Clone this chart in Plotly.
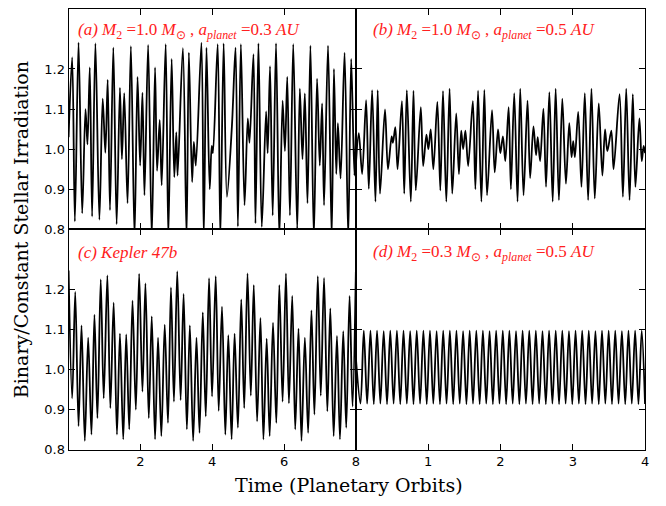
import plotly.graph_objects as go

# ---------------- data (extremes) ----------------
# Panel (a): M2=1.0 Msun, a=0.3 AU  (time in planetary orbits, 0..8)
t_a = [0.0, 0.10, 0.175, 0.277, 0.379, 0.471, 0.526, 0.59, 0.655, 0.747, 0.858, 0.95, 1.024, 1.089,
       1.153, 1.246, 1.338, 1.43, 1.485, 1.55, 1.642, 1.735, 1.836, 1.92, 1.993, 2.057, 2.113, 2.215,
       2.316, 2.408, 2.464, 2.538, 2.593, 2.704, 2.777, 2.87, 2.943, 3.0, 3.036, 3.183, 3.285, 3.35,
       3.44, 3.488, 3.543, 3.7, 3.765, 3.84, 3.93, 3.986, 4.02, 4.152, 4.226, 4.318, 4.41, 4.55, 4.65,
       4.715, 4.798, 4.9, 4.99, 5.038, 5.149, 5.204, 5.287, 5.38, 5.5, 5.545, 5.61, 5.684, 5.777, 5.869,
       5.96, 6.025, 6.09, 6.164, 6.256, 6.367, 6.44, 6.514, 6.58, 6.653, 6.735, 6.83, 6.92, 6.995, 7.06,
       7.114, 7.225, 7.327, 7.39, 7.455, 7.5, 7.575, 7.686, 7.787, 7.87, 7.96, 8.0]
v_a = [1.03, 1.229, 0.82, 1.266, 0.84, 1.10, 1.012, 1.204, 0.832, 1.264, 0.824, 1.126, 0.991, 1.173,
       0.848, 1.253, 0.813, 1.153, 0.975, 1.14, 0.865, 1.257, 0.78, 1.18, 0.959, 1.141, 0.885, 1.26,
       0.78, 1.204, 0.946, 1.073, 0.91, 1.262, 0.78, 1.225, 0.93, 1.042, 0.934, 1.252, 0.78, 1.241,
       0.918, 1.018, 0.959, 1.266, 0.78, 1.253, 0.90, 1.008, 0.99, 1.262, 0.78, 1.264, 0.881, 1.06, 1.253,
       0.807, 1.262, 0.86, 1.077, 1.016, 1.237, 0.815, 1.264, 0.806, 1.094, 0.99, 1.207, 0.835, 1.264, 0.78,
       1.121, 0.995, 1.18, 0.835, 1.262, 0.80, 1.151, 0.975, 1.139, 0.865, 1.258, 0.78, 1.176, 0.959, 1.114,
       0.86, 1.258, 0.78, 1.20, 0.938, 1.065, 0.927, 1.241, 0.78, 1.225, 0.934, 1.04]

# Panel (b): M2=1.0 Msun, a=0.5 AU  (0..4)
t_b = [0.0, 0.041, 0.087, 0.142, 0.179, 0.225, 0.271, 0.302, 0.334, 0.403, 0.444, 0.495, 0.513, 0.546,
       0.577, 0.637, 0.669, 0.705, 0.76, 0.797, 0.829, 0.898, 0.931, 0.976, 1.003, 1.035, 1.072, 1.127,
       1.168, 1.205, 1.251, 1.296, 1.333, 1.388, 1.425, 1.457, 1.484, 1.515, 1.553, 1.618, 1.653, 1.69,
       1.736, 1.777, 1.814, 1.883, 1.92, 1.966, 1.998, 2.034, 2.067, 2.113, 2.144, 2.19, 2.236, 2.273,
       2.319, 2.374, 2.41, 2.456, 2.492, 2.515, 2.548, 2.594, 2.63, 2.676, 2.722, 2.763, 2.808, 2.855,
       2.905, 2.951, 2.983, 3.006, 3.029, 3.075, 3.12, 3.166, 3.212, 3.258, 3.304, 3.359, 3.409, 3.446,
       3.478, 3.533, 3.564, 3.647, 3.693, 3.739, 3.785, 3.83, 3.866, 3.921, 3.954, 3.98, 4.0]
v_b = [0.96, 1.04, 0.938, 1.122, 0.901, 1.147, 0.869, 1.147, 0.889, 1.099, 0.95, 1.032, 1.016, 1.055,
       0.95, 1.12, 0.889, 1.147, 0.869, 1.146, 0.897, 1.105, 0.958, 1.036, 1.0, 1.049, 0.95, 1.118,
       0.897, 1.145, 0.869, 1.151, 0.889, 1.089, 0.938, 1.046, 1.0, 1.046, 0.958, 1.12, 0.90, 1.146,
       0.869, 1.148, 0.885, 1.097, 0.942, 1.049, 0.99, 1.032, 0.97, 1.105, 0.90, 1.14, 0.869, 1.151,
       0.885, 1.121, 0.928, 1.057, 0.985, 1.03, 0.97, 1.101, 0.906, 1.142, 0.869, 1.151, 0.873, 1.126,
       0.914, 1.065, 0.98, 1.02, 0.98, 1.093, 0.906, 1.14, 0.873, 1.151, 0.877, 1.114, 0.934, 1.049,
       0.995, 1.046, 0.95, 1.137, 0.881, 1.151, 0.873, 1.137, 0.906, 1.077, 0.97, 1.008, 0.99]

# Panel (c): Kepler 47b  (0..8)
t_c = [0.0, 0.10, 0.185, 0.277, 0.36, 0.452, 0.545, 0.637, 0.72, 0.803, 0.895, 0.978, 1.08, 1.163,
       1.255, 1.347, 1.43, 1.522, 1.605, 1.689, 1.78, 1.873, 1.965, 2.057, 2.14, 2.233, 2.316, 2.408,
       2.491, 2.583, 2.677, 2.768, 2.851, 2.934, 3.026, 3.12, 3.203, 3.294, 3.377, 3.469, 3.562, 3.646,
       3.737, 3.82, 3.912, 3.995, 4.097, 4.18, 4.272, 4.365, 4.448, 4.54, 4.623, 4.715, 4.808, 4.891,
       4.983, 5.075, 5.157, 5.25, 5.343, 5.426, 5.517, 5.6, 5.693, 5.785, 5.869, 5.96, 6.053, 6.136,
       6.228, 6.311, 6.403, 6.486, 6.58, 6.671, 6.763, 6.846, 6.94, 7.023, 7.114, 7.206, 7.289, 7.382,
       7.474, 7.557, 7.649, 7.732, 7.825, 7.908, 8.0]
v_c = [1.247, 0.928, 1.194, 0.859, 1.11, 0.822, 1.08, 0.838, 1.137, 0.879, 1.225, 0.928, 1.235, 0.904,
       1.167, 0.838, 1.09, 0.826, 1.088, 0.851, 1.172, 0.90, 1.239, 0.945, 1.215, 0.879, 1.133, 0.826,
       1.08, 0.834, 1.112, 0.867, 1.205, 0.92, 1.245, 0.924, 1.189, 0.851, 1.11, 0.822, 1.08, 0.842,
       1.143, 0.883, 1.228, 0.933, 1.233, 0.897, 1.157, 0.838, 1.086, 0.826, 1.09, 0.855, 1.175, 0.904,
       1.24, 0.935, 1.211, 0.871, 1.129, 0.826, 1.077, 0.834, 1.117, 0.867, 1.211, 0.92, 1.24, 0.916,
       1.184, 0.851, 1.102, 0.822, 1.08, 0.842, 1.148, 0.888, 1.233, 0.935, 1.229, 0.896, 1.153, 0.834,
       1.084, 0.826, 1.096, 0.855, 1.184, 0.908, 1.245]

# Panel (d): M2=0.3 Msun, a=0.5 AU  (0..4)
t_d = [0.0, 0.064, 0.110, 0.156, 0.202, 0.248, 0.293, 0.339, 0.385, 0.431, 0.476, 0.522, 0.568, 0.614,
       0.659, 0.705, 0.751, 0.797, 0.842, 0.888, 0.934, 0.980, 1.025, 1.071, 1.117, 1.163, 1.208, 1.254,
       1.300, 1.346, 1.391, 1.437, 1.483, 1.529, 1.574, 1.620, 1.666, 1.712, 1.757, 1.803, 1.849, 1.895,
       1.940, 1.986, 2.032, 2.078, 2.123, 2.169, 2.215, 2.261, 2.306, 2.352, 2.398, 2.444, 2.489, 2.535,
       2.581, 2.627, 2.672, 2.718, 2.764, 2.810, 2.855, 2.901, 2.947, 2.993, 3.038, 3.084, 3.130, 3.176,
       3.221, 3.267, 3.313, 3.359, 3.404, 3.450, 3.496, 3.542, 3.587, 3.633, 3.679, 3.725, 3.770, 3.816,
       3.862, 3.908, 3.953, 3.999]
v_d = [1.03, 0.915, 1.097, 0.915, 1.097, 0.914, 1.097, 0.915, 1.096, 0.914, 1.097, 0.915, 1.097, 0.914,
       1.097, 0.915, 1.096, 0.914, 1.097, 0.915, 1.097, 0.914, 1.097, 0.915, 1.096, 0.914, 1.097, 0.915,
       1.097, 0.914, 1.097, 0.915, 1.096, 0.914, 1.097, 0.915, 1.097, 0.914, 1.097, 0.915, 1.096, 0.914,
       1.097, 0.915, 1.097, 0.914, 1.097, 0.915, 1.096, 0.914, 1.097, 0.915, 1.097, 0.914, 1.097, 0.915,
       1.096, 0.914, 1.097, 0.915, 1.097, 0.914, 1.097, 0.915, 1.096, 0.914, 1.097, 0.915, 1.097, 0.914,
       1.097, 0.915, 1.096, 0.914, 1.097, 0.915, 1.097, 0.914, 1.097, 0.915, 1.096, 0.914, 1.097, 0.915,
       1.097, 0.914, 1.097, 0.914]

y_ticks = [0.8, 0.9, 1.0, 1.1, 1.2]
y_ticktext = ["0.8", "0.9", "1.0", "1.1", "1.2"]
left_ticks = [2, 4, 6, 8]
left_ticktext = ["2", "4", "6", "8"]
right_ticks = [1, 2, 3, 4]
right_ticktext = ["1", "2", "3", "4"]

labels = [
    "<i>(a) M</i><sub>2</sub> =1.0 <i>M</i><sub>⊙</sub> , <i>a</i><sub><i>planet</i></sub> =0.3 <i>AU</i>",
    "<i>(b) M</i><sub>2</sub> =1.0 <i>M</i><sub>⊙</sub> , <i>a</i><sub><i>planet</i></sub> =0.5 <i>AU</i>",
    "<i>(c) Kepler 47b</i>",
    "<i>(d) M</i><sub>2</sub> =0.3 <i>M</i><sub>⊙</sub> , <i>a</i><sub><i>planet</i></sub> =0.5 <i>AU</i>",
]

# ---------------- layout geometry ----------------
W, H = 666, 506
xl = [69 / W, 358 / W]
xr = [358 / W, 649 / W]
yt = [1 - 233 / H, 1 - 9 / H]
yb = [1 - 457 / H, 1 - 233 / H]

fig = go.Figure()
line = dict(color="black", width=1.8, shape="spline", smoothing=0.9)
fig.add_trace(go.Scatter(x=t_a, y=v_a, mode="lines", line=line, xaxis="x", yaxis="y", showlegend=False))
fig.add_trace(go.Scatter(x=t_b, y=v_b, mode="lines", line=line, xaxis="x2", yaxis="y2", showlegend=False))
fig.add_trace(go.Scatter(x=t_c, y=v_c, mode="lines", line=line, xaxis="x3", yaxis="y3", showlegend=False))
fig.add_trace(go.Scatter(x=t_d, y=v_d, mode="lines", line=line, xaxis="x4", yaxis="y4", showlegend=False))

tickfont = dict(family="DejaVu Sans", size=13, color="black")
common = dict(showline=True, linecolor="black", linewidth=1, mirror="allticks", ticks="inside",
              ticklen=6, tickwidth=1, tickcolor="black", showgrid=False, zeroline=False,
              tickfont=tickfont)

def xax(domain, anchor, rng, tv, tt, show):
    return dict(domain=domain, anchor=anchor, range=rng, tickvals=tv, ticktext=tt,
                showticklabels=show, **common)

def yax(domain, anchor, show):
    return dict(domain=domain, anchor=anchor, range=[0.8, 1.35], tickvals=y_ticks,
                ticktext=y_ticktext, showticklabels=show, **common)

fig.update_layout(
    width=W, height=H, margin=dict(l=0, r=0, t=0, b=0),
    paper_bgcolor="white", plot_bgcolor="white",
    xaxis=xax(xl, "y", [0, 8], left_ticks, left_ticktext, False),
    yaxis=yax(yt, "x", True),
    xaxis2=xax(xr, "y2", [0, 4], right_ticks, right_ticktext, False),
    yaxis2=yax(yt, "x2", False),
    xaxis3=xax(xl, "y3", [0, 8], left_ticks, left_ticktext, True),
    yaxis3=yax(yb, "x3", True),
    xaxis4=xax(xr, "y4", [0, 4], right_ticks, right_ticktext, True),
    yaxis4=yax(yb, "x4", False),
)

annfont = dict(family="Liberation Serif", size=17, color="#ff2020")
pos = [(76, 32), (373, 32), (76, 257), (373, 257)]
anns = []
for (px, py), txt in zip(pos, labels):
    anns.append(dict(x=px / W, y=1 - py / H, xref="paper", yref="paper", text=txt,
                     showarrow=False, xanchor="left", yanchor="middle", font=annfont))
anns.append(dict(x=351 / W, y=1 - 493 / H, xref="paper", yref="paper", text="Time (Planetary Orbits)",
                 showarrow=False, xanchor="center", yanchor="middle",
                 font=dict(family="DejaVu Serif", size=19, color="black")))
anns.append(dict(x=21 / W, y=1 - 233 / H, xref="paper", yref="paper",
                 text="Binary/Constant Stellar Irradiation", textangle=-90,
                 showarrow=False, xanchor="center", yanchor="middle",
                 font=dict(family="DejaVu Serif", size=19, color="black")))
fig.update_layout(annotations=anns)

fig.write_html("out.html")
